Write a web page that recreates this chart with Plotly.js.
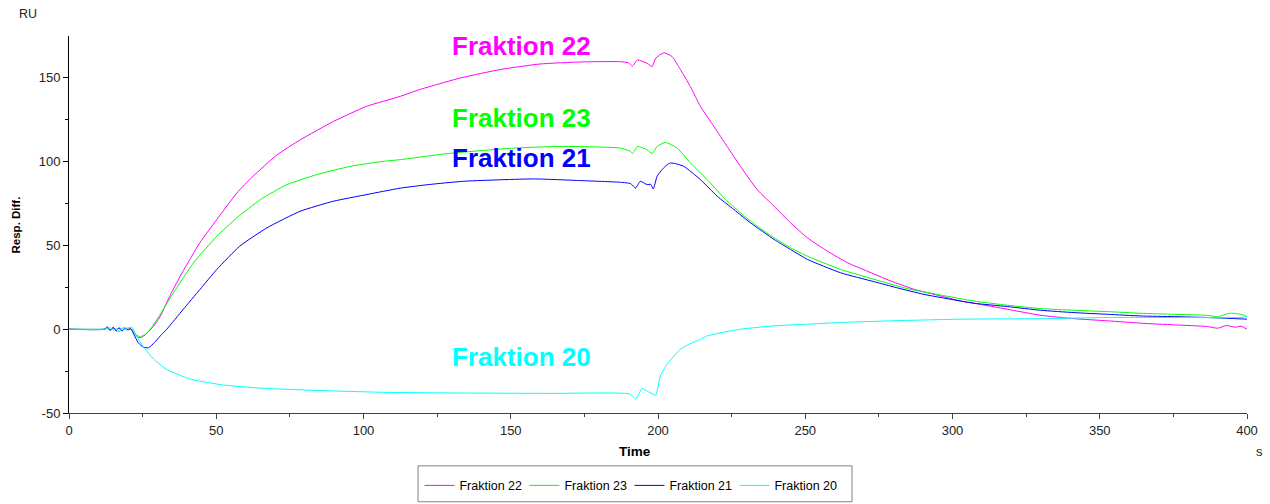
<!DOCTYPE html>
<html>
<head>
<meta charset="utf-8">
<script src="https://cdn.plot.ly/plotly-3.0.1.min.js"></script>
<style>
  html, body { margin: 0; padding: 0; background: #fff; }
  #chart { width: 1270px; height: 504px; }
</style>
</head>
<body>
<div id="chart"></div>
<script>
// Sensorgram: response difference (RU) over time (s) for four fractions
const seriesNames = ['Fraktion 22', 'Fraktion 23', 'Fraktion 21', 'Fraktion 20'];
const seriesColors = ['#ff00ff', '#00ff00', '#0000ff', '#00ffff'];

const time22 = [0, 12, 13, 14, 15, 16, 17, 18, 19, 20, 21, 22, 23.5, 25, 27, 29, 31, 34, 37.7, 41, 44.5, 50.2, 57, 62.5, 70.6, 78.5, 89.8, 101, 112.5, 119, 133, 146.5, 160, 173.7, 187, 190, 191.3, 193, 196.3, 198, 199.2, 202, 204.8, 207.6, 211, 214.4, 219, 223.5, 228, 233.7, 239.4, 245, 250.7, 257.5, 264.3, 271, 279, 287, 296, 302.8, 307.3, 318.7, 330, 341.3, 352.7, 364, 375.3, 386.6, 390, 393, 396, 398, 400];
const resp22 = [0, 0, 0.5, -0.5, 0.8, -0.8, 0.6, -1, 0.5, -0.5, 0.3, -2, -5, -4.5, -1.5, 2.5, 7.7, 19, 31.5, 41.5, 51.8, 65.5, 81.3, 91.3, 104, 113, 124, 133, 139, 143, 150, 155, 158.3, 159.5, 159.7, 159, 157, 160.7, 158.7, 156.7, 161.7, 165, 162.7, 155, 144.8, 133, 121, 109, 97.2, 83.3, 73.4, 63.5, 54.6, 46.6, 39.7, 34.7, 28.8, 23.8, 19.8, 16.8, 15.5, 11.9, 8.3, 6.3, 5, 3.6, 2.6, 1.6, 0.6, 2.2, 1.2, 1.8, 0];

const time23 = [0, 12, 13, 14, 15, 16, 17, 18, 19, 20, 21, 22, 24, 26, 28, 31, 35.5, 42.3, 50.2, 57, 65, 74, 84.2, 95.5, 105.7, 112.5, 128.4, 151, 168, 187.3, 190.7, 191.4, 193, 196.3, 198, 199.7, 202.5, 206.5, 211, 216.7, 222.4, 228, 233.7, 239.4, 245, 250.7, 262, 273.3, 284.7, 296, 307.3, 318.7, 330, 341.3, 352.7, 364, 375.3, 386.6, 390, 394, 398, 400];
const resp23 = [0, 0, 0.3, -0.5, 0.5, -1, -1.5, 0.5, 1, -0.5, 0.5, -2, -4.5, -3, 1, 9, 21.8, 39.7, 55.5, 66.5, 77.4, 86.3, 92.3, 97.2, 100, 101.2, 104.8, 108.1, 109.1, 108.1, 106.1, 104.8, 109.1, 107.1, 104.8, 109.1, 111.5, 108.1, 99.2, 89.3, 78.4, 69.4, 61.5, 54.6, 48.6, 43.6, 35.7, 29.8, 24.2, 20.4, 16.8, 14.3, 12.3, 11.3, 10.5, 9.5, 8.9, 8.3, 7.5, 9.5, 8.9, 7.5];

const time21 = [0, 12, 13, 14, 15, 16, 17, 18, 19, 20, 21, 22, 23.5, 25.3, 27, 29, 31, 33.2, 38.8, 44.5, 50.2, 58, 67.2, 78.5, 89.8, 101.2, 112.5, 122, 134, 157.8, 173.7, 187.3, 190.7, 192.4, 194, 196.3, 197.5, 198.4, 199.7, 201.5, 203.1, 204.2, 206, 208.8, 214.4, 220.1, 225.8, 231.4, 239.4, 245, 250.7, 262, 273.3, 281, 290.3, 302.8, 307.3, 318.7, 330, 341.3, 352.7, 364, 375.3, 386.6, 400];
const resp21 = [0, 0, 1.5, -0.5, 1.2, -1, 1, -1, 0.5, 0, 0.2, -3, -8, -10.8, -11, -8, -4, 0, 11.9, 23.8, 35.7, 49.6, 60.5, 70.4, 76.4, 80.4, 84.2, 86.3, 88.3, 89.7, 88.7, 87.7, 86.9, 84.3, 88.3, 86.3, 86.5, 83.7, 91.3, 95.5, 98.2, 99.2, 98.8, 97.2, 89.3, 79.4, 71.4, 63.5, 53.6, 47.6, 41.7, 33.7, 28.4, 24.8, 20.8, 16.8, 15.5, 13.5, 11.3, 9.9, 8.9, 7.9, 7.5, 7, 6];

const time20 = [0, 12, 13, 14, 15, 16, 17, 18, 19, 20, 21.5, 22.6, 25.4, 28.8, 33, 41.3, 52.4, 66.3, 80.2, 107.9, 135.6, 163.4, 190.5, 192.5, 194.6, 196.7, 199.2, 200.8, 203, 205, 207.6, 210.6, 214.4, 216.7, 228, 239.4, 250.7, 262, 279, 302.8, 330, 352.7, 375.3, 398, 400];
const resp20 = [0, 0, 0.5, 1, -0.5, 0.5, -1, 0.5, 0, 1, 1, -3, -10.9, -17.9, -23.8, -29.8, -33.3, -35.3, -36.3, -37.7, -38.1, -38.3, -38.7, -41.7, -35.3, -37.3, -39.3, -27.8, -21, -16.9, -11.9, -8.9, -6, -4, 0, 2, 3, 4, 5, 6, 6.3, 7, 7, 7, 7.5];

const xTicks = [0, 50, 100, 150, 200, 250, 300, 350, 400];
const yTicks = [-50, 0, 50, 100, 150];

// In-plot labels: [x (s), y (RU)] for each fraction name
const labelTime = [153.8, 153.8, 153.8, 153.8];
const labelResp = [169.3, 126.2, 102.4, -16.4];

const timeSets = [time22, time23, time21, time20];
const respSets = [resp22, resp23, resp21, resp20];

const FONT = 'Liberation Sans, Arial, sans-serif';

const traces = seriesNames.map((name, i) => ({
  type: 'scatter',
  mode: 'lines',
  name: name,
  x: timeSets[i],
  y: respSets[i],
  line: { color: seriesColors[i], width: 1, shape: 'spline', smoothing: 0.5 },
  hoverinfo: 'x+y+name'
}));

const labels = seriesNames.map((name, i) => ({
  x: labelTime[i], y: labelResp[i], xref: 'x', yref: 'y',
  text: '<b>' + name + '</b>', showarrow: false,
  xanchor: 'center', yanchor: 'middle',
  font: { family: FONT, size: 26, color: seriesColors[i] }
}));

const layout = {
  width: 1270, height: 504,
  margin: { l: 69, r: 23, t: 36, b: 91, autoexpand: false },
  paper_bgcolor: '#ffffff', plot_bgcolor: '#ffffff',
  showlegend: true,
  legend: {
    orientation: 'h', x: 0.2975, xanchor: 'left', y: -0.193, yanchor: 'middle',
    font: { family: FONT, size: 12.5, color: '#000' },
    bgcolor: 'rgba(0,0,0,0)', borderwidth: 0,
    entrywidth: 60, entrywidthmode: 'pixels'
  },
  xaxis: {
    range: [0, 400], tickvals: xTicks, ticktext: xTicks.map(String),
    showgrid: false, zeroline: false,
    showline: true, linecolor: '#404040', linewidth: 1,
    ticks: 'outside', ticklen: 5, tickcolor: '#404040',
    minor: { tickvals: [25, 75, 125, 175, 225, 275, 325, 375], ticks: 'outside', ticklen: 3, tickcolor: '#404040' },
    tickfont: { family: FONT, size: 13, color: '#222' },
    fixedrange: true
  },
  yaxis: {
    range: [-50, 175], tickvals: yTicks, ticktext: yTicks.map(String),
    showgrid: false, zeroline: false,
    showline: true, linecolor: '#000', linewidth: 1,
    ticks: 'outside', ticklen: 5, tickcolor: '#000',
    minor: { tickvals: [-25, 25, 75, 125], ticks: 'outside', ticklen: 3, tickcolor: '#000' },
    tickfont: { family: FONT, size: 13, color: '#222' },
    fixedrange: true
  },
  shapes: [{
    type: 'rect', xref: 'paper', yref: 'paper',
    x0: 0.2963, x1: 0.6647, y0: -0.2354, y1: -0.1402,
    line: { color: '#808080', width: 1 }, fillcolor: 'rgba(0,0,0,0)'
  }],
  annotations: labels.concat([
    { xref: 'paper', yref: 'paper', x: 0.4805, y: -0.0775, text: '<b>Time</b>', showarrow: false,
      xanchor: 'center', yanchor: 'top', font: { family: FONT, size: 13.5, color: '#000000' } },
    { xref: 'paper', yref: 'paper', x: -0.045, y: 0.5, text: '<b>Resp. Diff.</b>', showarrow: false,
      textangle: -90, xanchor: 'center', yanchor: 'middle',
      font: { family: FONT, size: 11.5, color: '#000' } },
    { xref: 'paper', yref: 'paper', x: -0.0345, y: 1.058, text: 'RU', showarrow: false,
      xanchor: 'center', yanchor: 'middle', font: { family: FONT, size: 12.5, color: '#222' } },
    { xref: 'paper', yref: 'paper', x: 1.0105, y: -0.103, text: 's', showarrow: false,
      xanchor: 'center', yanchor: 'middle', font: { family: FONT, size: 13, color: '#222' } }
  ])
};

Plotly.newPlot('chart', traces, layout, { displayModeBar: false, staticPlot: true });
</script>
</body>
</html>
